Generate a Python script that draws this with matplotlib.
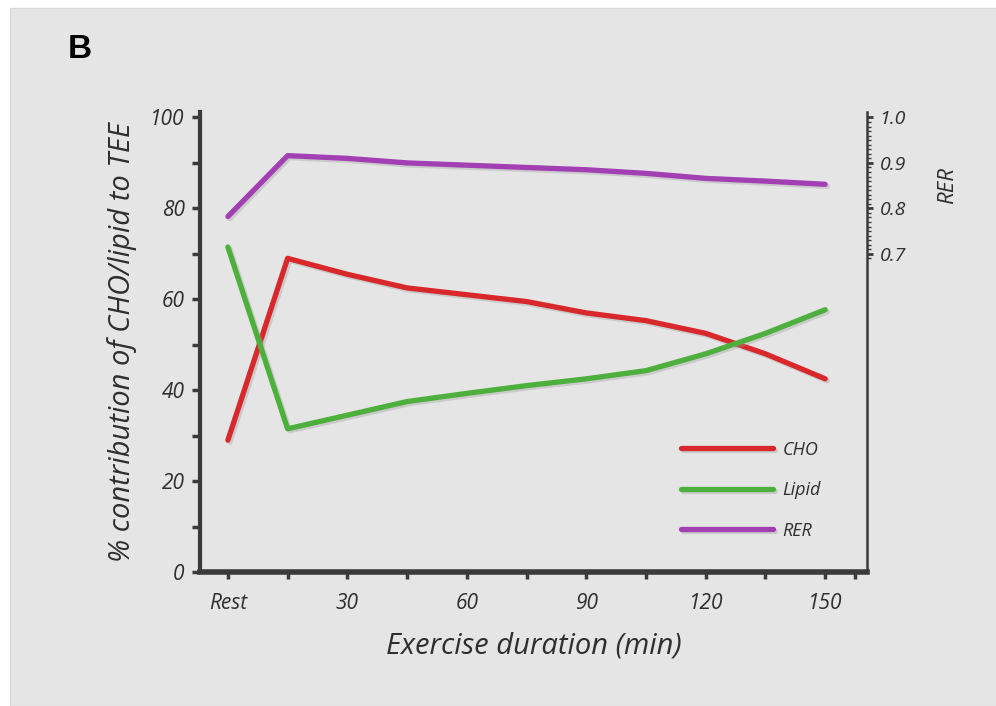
import numpy as np
import matplotlib.pyplot as plt
import matplotlib.patheffects as pe
from matplotlib.patches import Rectangle

plt.rcParams['font.family'] = ['Open Sans', 'DejaVu Sans']

minutes = [0, 15, 30, 45, 60, 75, 90, 105, 120, 135, 150]
cho = [29, 69, 65.5, 62.5, 61, 59.5, 57, 55.3, 52.5, 48, 42.5]
lipid = [71.5, 31.5, 34.5, 37.5, 39.3, 41, 42.5, 44.3, 48, 52.5, 57.7]
rer = [0.782, 0.916, 0.91, 0.90, 0.895, 0.89, 0.885, 0.877, 0.866, 0.86, 0.853]

x_ticks = [0, 15, 30, 45, 60, 75, 90, 105, 120, 135, 150, 157.5]
x_labels = ['Rest', '', '30', '', '60', '', '90', '', '120', '', '150', '']

c_cho = '#d8282b'
c_lipid = '#4daf3c'
c_rer = '#a23fb3'
c_axis = '#3a3a3a'
c_text = '#2e2e2e'

fig = plt.figure(figsize=(9.96, 7.06), dpi=100)
fig.patch.set_facecolor('white')
fig.patches.append(Rectangle((10 / 996, 0), 1, 1 - 8 / 706, transform=fig.transFigure,
                             facecolor='#e5e5e5', edgecolor='#d8d8d8', lw=1, zorder=-10))

ax = fig.add_axes([200 / 996, 134 / 706, 667 / 996, 460 / 706])
ax.set_facecolor('none')
ax2 = ax.twinx()

shadow = [pe.SimpleLineShadow(offset=(1.5, -1.5), shadow_color='#999999', alpha=0.35), pe.Normal()]
ax.plot(minutes, cho, color=c_cho, lw=3.8, solid_capstyle='round', label='CHO', path_effects=shadow)
ax.plot(minutes, lipid, color=c_lipid, lw=3.8, solid_capstyle='round', label='Lipid', path_effects=shadow)
ax2.plot(minutes, rer, color=c_rer, lw=3.8, solid_capstyle='round', label='RER', path_effects=shadow)

ax.set_xlim(-7, 160.5)
ax.set_ylim(0, 101.2)
ax2.set_ylim(0, 1.012)

ax.spines['top'].set_visible(False)
ax2.spines['top'].set_visible(False)
ax.spines['right'].set_visible(False)
ax2.spines['left'].set_visible(False)
ax2.spines['bottom'].set_visible(False)
ax.spines['left'].set_linewidth(3)
ax.spines['bottom'].set_linewidth(4)
ax.spines['left'].set_color(c_axis)
ax.spines['bottom'].set_color(c_axis)
ax2.spines['right'].set_linewidth(1.8)
ax2.spines['right'].set_color(c_axis)

ax.set_yticks([0, 20, 40, 60, 80, 100])
ax.set_yticks([10, 30, 50, 70, 90], minor=True)
ax.tick_params(axis='y', which='both', direction='out', length=6, width=2.5, color=c_axis,
               labelsize=15, pad=5)
ax.set_xticks(x_ticks)
ax.set_xticklabels(x_labels)
ax.tick_params(axis='x', direction='out', length=5, width=2.5, color=c_axis, labelsize=15, pad=10)
for t in ax.get_xticklabels() + ax.get_yticklabels():
    t.set_fontstyle('italic')
    t.set_color(c_text)

ax2.set_yticks([0.7, 0.8, 0.9, 1.0])
ax2.set_yticklabels(['0.7', '0.8', '0.9', '1.0'])
ax2.set_yticks(np.arange(0.69, 1.0, 0.01), minor=True)
ax2.tick_params(axis='y', which='major', direction='out', length=4, width=2, color=c_axis,
                labelsize=14, pad=5)
ax2.tick_params(axis='y', which='minor', direction='out', length=3, width=1, color=c_axis)
for t in ax2.get_yticklabels():
    t.set_fontstyle('italic')
    t.set_color(c_text)

ax.set_xlabel('Exercise duration (min)', fontsize=21, fontstyle='italic', color=c_text)
ax.set_ylabel('% contribution of CHO/lipid to TEE', fontsize=21, fontstyle='italic', color=c_text)
ax.xaxis.set_label_coords(0.5, -0.13)
ax.yaxis.set_label_coords(-0.094, 0.5)
ax2.set_ylabel('RER', fontsize=16, fontstyle='italic', color=c_text)
ax2.yaxis.set_label_coords(1.105, 0.84)

handles = ax.get_lines() + ax2.get_lines()
leg = ax.legend(handles, [h.get_label() for h in handles], loc='lower right',
                bbox_to_anchor=(0.955, 0.035), frameon=False, handlelength=5.1, labelspacing=1.25,
                prop={'size': 13, 'style': 'italic'}, handletextpad=0.5)
for t in leg.get_texts():
    t.set_color(c_text)

fig.text(68 / 996, 1 - 50 / 706, 'B', fontsize=24, fontweight='bold', family='Liberation Sans',
         va='center', ha='left')

plt.savefig('out.png', dpi=100)
